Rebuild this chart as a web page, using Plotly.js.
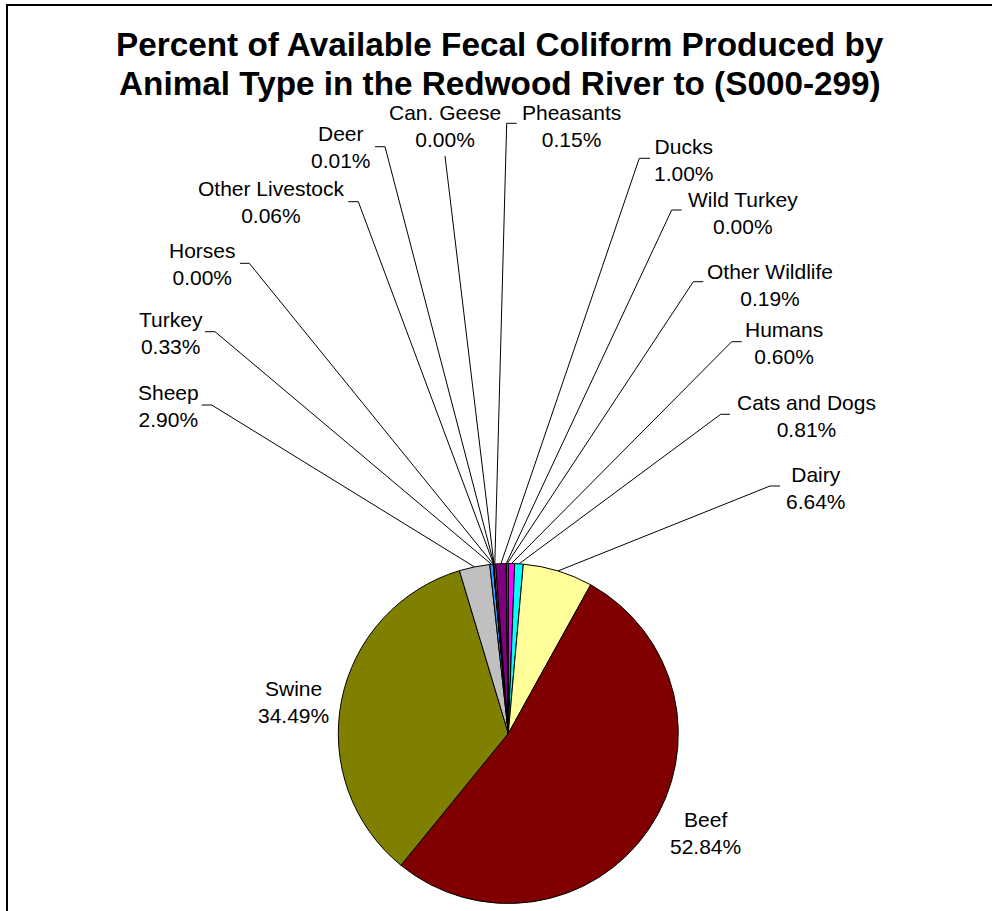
<!DOCTYPE html>
<html>
<head>
<meta charset="utf-8">
<script src="https://cdn.plot.ly/plotly-3.0.1.min.js"></script>
<style>html,body{margin:0;padding:0;background:#fff;}#chart{width:992px;height:911px;}</style>
</head>
<body>
<div id="chart"></div>
<script>
// ---- data (clockwise from 12 o'clock) ----
var categories = ["Humans", "Cats and Dogs", "Dairy", "Beef", "Swine", "Sheep", "Turkey", "Horses",
                  "Other Livestock", "Deer", "Can. Geese", "Pheasants", "Ducks", "Wild Turkey", "Other Wildlife"];
var percents = [0.60, 0.81, 6.64, 52.84, 34.49, 2.90, 0.33, 0.00, 0.06, 0.01, 0.00, 0.15, 1.00, 0.00, 0.19];
var sliceColors = ["#FF00FF", "#00FFFF", "#FFFF99", "#800000", "#808000", "#C0C0C0", "#3399FF", "#993366",
                   "#FFFFCC", "#CCFFFF", "#660066", "#FF8080", "#800080", "#0066CC", "#008080"];
var titleLines = ["Percent of Available Fecal Coliform Produced by",
                  "Animal Type in the Redwood River to (S000-299)"];

// ---- layout (pixel positions) ----
var W = 992, H = 911;
var pieCx = 508.3, pieCy = 733.5, pieR = 170;
// label text centre [x, y] ; leader start & knee (null = no leader)
var labelPos = {
  "Humans":          {c: [784, 343], s: [741.7, 341.7], k: [731.7, 341.7]},
  "Cats and Dogs":   {c: [806.7, 416], s: [730, 414.3], k: [720.7, 414.3]},
  "Dairy":           {c: [815.8, 488], s: [780, 486], k: [770, 486]},
  "Beef":            {c: [705, 833], s: null},
  "Swine":           {c: [293.5, 702], s: null},
  "Sheep":           {c: [168, 406], s: [201.7, 405], k: [211.7, 405]},
  "Turkey":          {c: [171, 333], s: [205, 331.7], k: [215, 331.7]},
  "Horses":          {c: [202, 264], s: [240, 263.3], k: [249.3, 263.3]},
  "Other Livestock": {c: [271, 202], s: [348.3, 201.7], k: [358.3, 201.7]},
  "Deer":            {c: [340.5, 147.5], s: [375, 146.7], k: [385, 146.7]},
  "Can. Geese":      {c: [445, 126], s: [445, 156], k: [445, 156]},
  "Pheasants":       {c: [571.7, 126], s: [516.7, 123.3], k: [506.7, 123.3]},
  "Ducks":           {c: [684, 160], s: [650, 158.3], k: [639.3, 158.3]},
  "Wild Turkey":     {c: [742.5, 212.5], s: [681.7, 210], k: [671.7, 210]},
  "Other Wildlife":  {c: [770, 285], s: [703.3, 281.7], k: [693.3, 281.7]}
};

function px(x) { return x / W; }
function py(y) { return 1 - y / H; }

var font = "Liberation Sans, Arial, sans-serif";
var total = percents.reduce(function (a, b) { return a + b; }, 0);

var annotations = [];
var shapes = [];

// frame
shapes.push({type: "rect", xref: "paper", yref: "paper",
  x0: px(7), x1: px(1100), y0: py(5), y1: py(1100),
  line: {color: "#000", width: 2}, fillcolor: "rgba(0,0,0,0)", layer: "below"});

// labels and leader lines
var cum = 0;
categories.forEach(function (name, i) {
  var v = percents[i];
  var mid = 2 * Math.PI * (cum + v / 2) / total;
  cum += v;
  var ex = pieCx + pieR * Math.sin(mid);
  var ey = pieCy - pieR * Math.cos(mid);
  var lp = labelPos[name];
  annotations.push({
    xref: "paper", yref: "paper", x: px(lp.c[0]), y: py(lp.c[1]),
    xanchor: "center", yanchor: "middle", showarrow: false,
    text: name + "<br>" + v.toFixed(2) + "%",
    font: {family: font, size: 21, color: "#000"}
  });
  if (lp.s) {
    var path = "M" + px(lp.s[0]) + "," + py(lp.s[1]) +
               " L" + px(lp.k[0]) + "," + py(lp.k[1]) +
               " L" + px(ex) + "," + py(ey);
    shapes.push({type: "path", xref: "paper", yref: "paper", path: path,
      line: {color: "#000", width: 1}});
  }
});

// title lines
var titleY = [45, 83];
titleLines.forEach(function (t, i) {
  annotations.push({
    xref: "paper", yref: "paper", x: px(500), y: py(titleY[i]),
    xanchor: "center", yanchor: "middle", showarrow: false,
    text: "<b>" + t + "</b>",
    font: {family: font, size: 33.3, color: "#000"}
  });
});

var trace = {
  type: "pie",
  labels: categories,
  values: percents,
  sort: false,
  direction: "clockwise",
  rotation: 0,
  textinfo: "none",
  hoverinfo: "label+percent",
  marker: {colors: sliceColors, line: {color: "#000", width: 1}},
  domain: {x: [px(pieCx - pieR), px(pieCx + pieR)],
           y: [py(pieCy + pieR), py(pieCy - pieR)]},
  showlegend: false
};

var layout = {
  width: W, height: H,
  margin: {l: 0, r: 0, t: 0, b: 0},
  paper_bgcolor: "#fff", plot_bgcolor: "#fff",
  showlegend: false,
  annotations: annotations,
  shapes: shapes
};

Plotly.newPlot("chart", [trace], layout, {displayModeBar: false, staticPlot: true});
</script>
</body>
</html>
